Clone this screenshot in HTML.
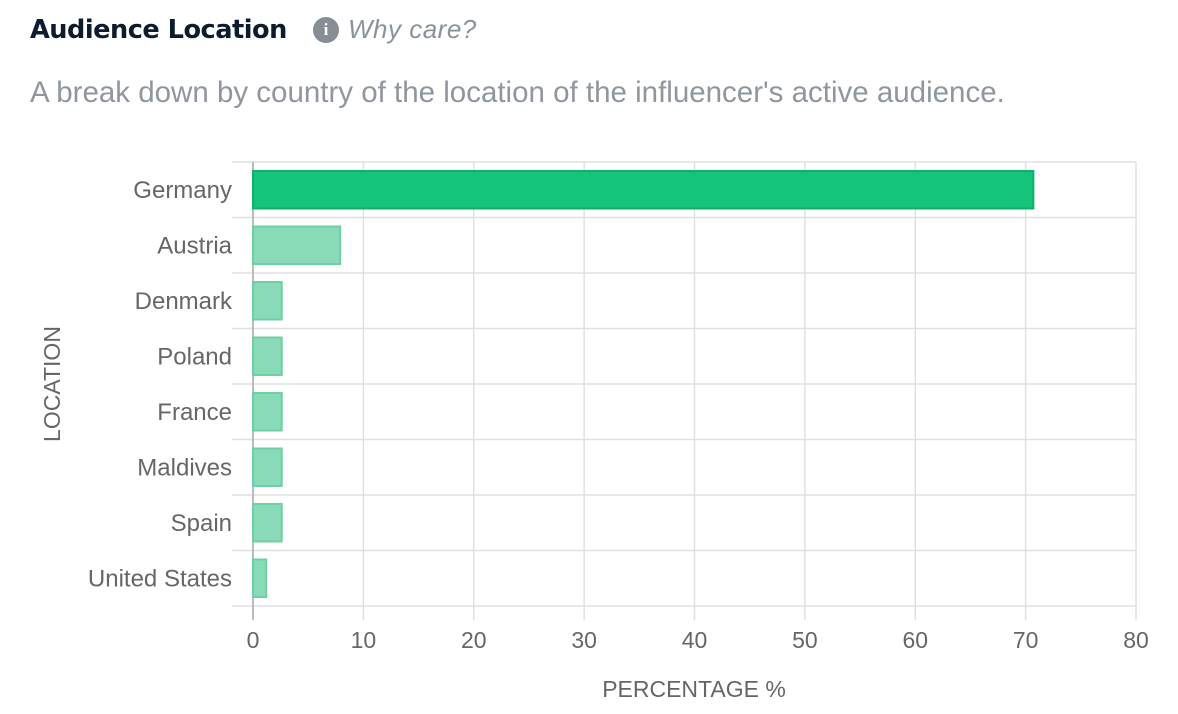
<!DOCTYPE html>
<html><head><meta charset="utf-8"><style>
body{margin:0;width:1178px;height:714px;background:#fff;overflow:hidden;font-family:"Liberation Sans",sans-serif}
.t{position:absolute;left:30px;top:15px;font-size:25.6px;font-weight:bold;color:#0d1b2e;font-family:"DejaVu Sans","Liberation Sans",sans-serif;letter-spacing:-0.5px}
.w{position:absolute;left:348px;top:14px;font-size:26px;font-style:italic;color:#8a929b;letter-spacing:0.5px}
.i{position:absolute;left:313px;top:17px;width:26px;height:26px;border-radius:50%;background:#878d94;color:#fff;font:bold 17px "Liberation Serif",serif;text-align:center;line-height:26px}
.d{position:absolute;left:30px;top:76px;font-size:29.5px;color:#8f969d}
</style></head><body>
<div class="t">Audience Location</div>
<div class="i">i</div>
<div class="w">Why care?</div>
<div class="d">A break down by country of the location of the influencer's active audience.</div>
<svg id="c" width="1178" height="714" style="position:absolute;left:0;top:0"></svg>
<script>
const categories=["Germany","Austria","Denmark","Poland","France","Maldives","Spain","United States"];
const values=[70.7,7.9,2.6,2.6,2.6,2.6,2.6,1.2];
const xTicks=[0,10,20,30,40,50,60,70,80];
const svg=document.getElementById('c');
const NS='http://www.w3.org/2000/svg';
const x0=253,x1=1136,yTop=162,yBot=606;
const xs=v=>x0+(v-0)/(80-0)*(x1-x0);
const band=(yBot-yTop)/categories.length;
function mk(t,a){const e=document.createElementNS(NS,t);for(const k in a)e.setAttribute(k,a[k]);svg.appendChild(e);return e;}
for(let i=0;i<=categories.length;i++){const y=yTop+i*band;
const l=mk('line',{x1:232,x2:x1,y1:y,y2:y,stroke:'#e0e0e0','stroke-width':1.5});

}
xTicks.forEach(v=>{const x=xs(v);
const l=mk('line',{x1:x,x2:x,y1:yTop,y2:620,stroke:v===0?'#bbbbbb':'#e0e0e0','stroke-width':v===0?2:1.5});


const t=mk('text',{x:x,y:648,'text-anchor':'middle','font-size':23,fill:'#666'});t.textContent=v;

});
categories.forEach((c,i)=>{const y=yTop+i*band;
const r=mk('rect',{x:x0,y:y+9,width:xs(values[i])-x0,height:band-18,fill:i===0?'#14c47a':'#88dbb6',stroke:i===0?'#10b06c':'#6fcfa4','stroke-width':2});


const t=mk('text',{x:232,y:y+band/2+8,'text-anchor':'end','font-size':24,fill:'#666'});t.textContent=c;

});
const yt=mk('text',{x:0,y:0,transform:'translate(60,384) rotate(-90)','text-anchor':'middle','font-size':23,fill:'#666'});yt.textContent='LOCATION';


const xt=mk('text',{x:694,y:697,'text-anchor':'middle','font-size':23,fill:'#666'});xt.textContent='PERCENTAGE %';


</script>
</body></html>
